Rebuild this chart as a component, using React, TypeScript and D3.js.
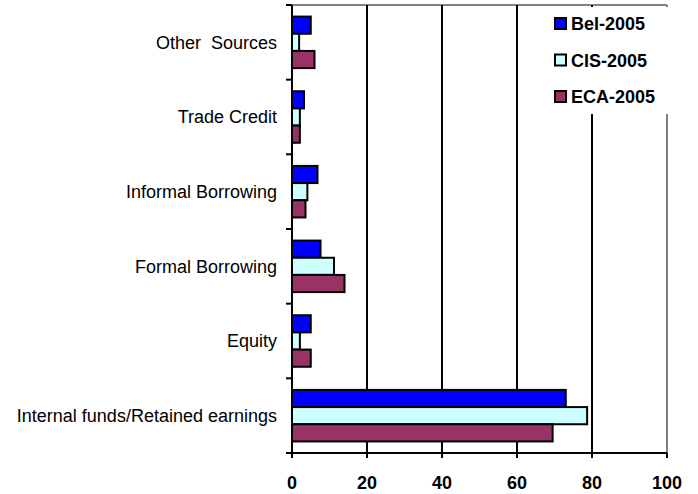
import { useEffect, useRef } from "react";
import * as d3 from "d3";

const categories = [
  "Other  Sources",
  "Trade Credit",
  "Informal Borrowing",
  "Formal Borrowing",
  "Equity",
  "Internal funds/Retained earnings",
];
const seriesNames = ["Bel-2005", "CIS-2005", "ECA-2005"];
const belValues = [5.0, 3.2, 6.8, 7.6, 5.0, 73.0];
const cisValues = [1.9, 2.1, 4.1, 11.2, 2.1, 78.7];
const ecaValues = [6.0, 2.1, 3.6, 14.0, 5.0, 69.5];
const xTicks = [0, 20, 40, 60, 80, 100];
const colors = ["#0000ff", "#ccffff", "#993366"];

const W = 698;
const H = 494;

const App: React.FC = () => {
  const ref = useRef<SVGSVGElement>(null);

  useEffect(() => {
    if (!ref.current) return;
    const svg = d3.select(ref.current);
    svg.selectAll("*").remove();

    const left = 292;
    const right = 667;
    const top = 5;
    const bottom = 453;
    const font = "Liberation Sans, Arial, sans-serif";

    const x = d3.scaleLinear().domain([0, 100]).range([left, right]);
    const y = d3.scaleBand<string>().domain(categories).range([top, bottom]).padding(0);
    const bw = y.bandwidth();
    const inner = d3
      .scaleBand<string>()
      .domain(seriesNames)
      .range([bw * 0.155, bw * 0.845])
      .padding(0);

    const series = [belValues, cisValues, ecaValues];

    // plot border (top + right, grey)
    svg.append("line").attr("x1", left).attr("x2", right).attr("y1", top).attr("y2", top)
      .attr("stroke", "#808080").attr("stroke-width", 2);
    svg.append("line").attr("x1", right).attr("x2", right).attr("y1", top).attr("y2", bottom)
      .attr("stroke", "#808080").attr("stroke-width", 2);

    // gridlines
    svg.selectAll(".grid")
      .data(xTicks.filter((t) => t > 0 && t < 100))
      .enter()
      .append("line")
      .attr("x1", (d) => x(d)).attr("x2", (d) => x(d))
      .attr("y1", top).attr("y2", bottom)
      .attr("stroke", "#000").attr("stroke-width", 2);

    // bars
    series.forEach((vals, si) => {
      svg.append("g")
        .selectAll("rect")
        .data(vals)
        .enter()
        .append("rect")
        .attr("x", x(0))
        .attr("y", (_, i) => (y(categories[i]) as number) + (inner(seriesNames[si]) as number))
        .attr("width", (d) => x(d) - x(0))
        .attr("height", inner.bandwidth())
        .attr("fill", colors[si])
        .attr("stroke", "#000")
        .attr("stroke-width", 2);
    });

    // y axis
    const yAxis = svg.append("g");
    yAxis.append("line").attr("x1", left).attr("x2", left).attr("y1", top).attr("y2", bottom + 5)
      .attr("stroke", "#000").attr("stroke-width", 2);
    const yEdges = categories.map((c) => y(c) as number).concat([bottom]);
    yAxis.selectAll(".yt")
      .data(yEdges)
      .enter()
      .append("line")
      .attr("x1", left - 6).attr("x2", left)
      .attr("y1", (d) => d).attr("y2", (d) => d)
      .attr("stroke", "#000").attr("stroke-width", 2);
    yAxis.selectAll(".yl")
      .data(categories)
      .enter()
      .append("text")
      .attr("x", 277)
      .attr("y", (d) => (y(d) as number) + bw / 2)
      .attr("dy", "0.35em")
      .attr("text-anchor", "end")
      .style("white-space", "pre")
      .attr("font-family", font)
      .attr("font-size", 18)
      .attr("fill", "#000")
      .text((d) => d);

    // x axis
    const xAxis = svg.append("g");
    xAxis.append("line").attr("x1", left - 6).attr("x2", right).attr("y1", bottom).attr("y2", bottom)
      .attr("stroke", "#000").attr("stroke-width", 2);
    xAxis.selectAll(".xt")
      .data(xTicks)
      .enter()
      .append("line")
      .attr("x1", (d) => x(d)).attr("x2", (d) => x(d))
      .attr("y1", bottom).attr("y2", bottom + 5)
      .attr("stroke", "#000").attr("stroke-width", 2);
    xAxis.selectAll(".xl")
      .data(xTicks)
      .enter()
      .append("text")
      .attr("x", (d) => x(d))
      .attr("y", 489)
      .attr("text-anchor", "middle")
      .attr("font-family", font)
      .attr("font-size", 18)
      .attr("font-weight", "bold")
      .attr("fill", "#000")
      .text((d) => String(d));

    // legend
    const lg = svg.append("g");
    lg.append("rect").attr("x", 546).attr("y", 7).attr("width", 124).attr("height", 107).attr("fill", "#fff");
    seriesNames.forEach((name, i) => {
      const ry = 18 + i * 36.5;
      lg.append("rect").attr("x", 555).attr("y", ry).attr("width", 11).attr("height", 11)
        .attr("fill", colors[i]).attr("stroke", "#000").attr("stroke-width", 2);
      lg.append("text").attr("x", 571).attr("y", ry + 12)
        .attr("font-family", font).attr("font-size", 18).attr("font-weight", "bold")
        .attr("fill", "#000").text(name);
    });
  }, []);

  return (
    <svg
      ref={ref}
      width={W}
      height={H}
      style={{ position: "absolute", left: 0, top: 0, background: "#fff" }}
    />
  );
};

export default App;
